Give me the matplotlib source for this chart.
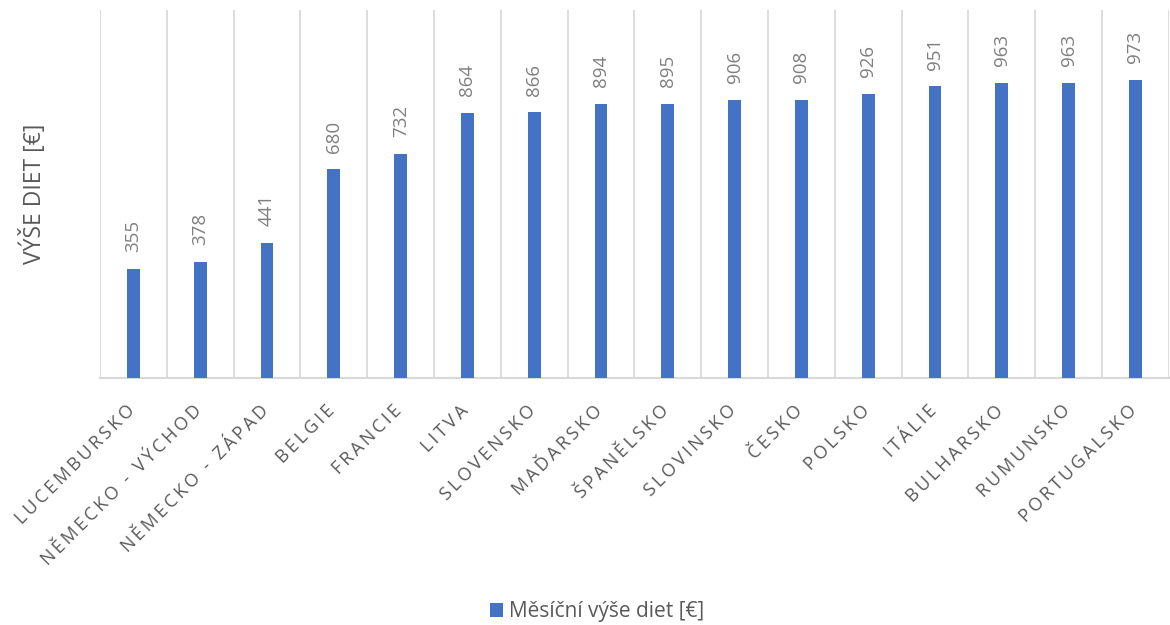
import matplotlib
matplotlib.use("Agg")
import matplotlib.pyplot as plt
import matplotlib.transforms as mtransforms
import numpy as np

categories = ["LUCEMBURSKO", "NĚMECKO - VÝCHOD", "NĚMECKO - ZÁPAD", "BELGIE", "FRANCIE",
              "LITVA", "SLOVENSKO", "MAĎARSKO", "ŠPANĚLSKO", "SLOVINSKO", "ČESKO",
              "POLSKO", "ITÁLIE", "BULHARSKO", "RUMUNSKO", "PORTUGALSKO"]
values = [355, 378, 441, 680, 732, 864, 866, 894, 895, 906, 908, 926, 951, 963, 963, 973]
series_name = "Měsíční výše diet [€]"
y_label = "VÝŠE DIET [€]"

FAM = ["Open Sans", "DejaVu Sans"]
plt.rcParams["font.family"] = FAM

def spaced(s):
    return "\u2009".join(list(s))

fig = plt.figure(figsize=(11.7, 6.25), dpi=100)
ax = fig.add_axes([0.0855, 0.3952, 0.9135, 0.5888])

x = np.arange(len(categories))
bars = ax.bar(x, values, width=0.19, color="#4472C4", label=series_name, zorder=3)

ax.set_xlim(-0.5, len(categories) - 0.5)
ax.set_ylim(0, 1200)
ax.set_yticks([])
ax.set_xticks(x)
ax.set_xticklabels([spaced(c) for c in categories], rotation=45, ha="right",
                   va="top", rotation_mode="anchor", fontsize=13, color="#595959")
ax.tick_params(axis="x", length=0, pad=17)
shift = mtransforms.ScaledTranslation(-8 / 100, 0, fig.dpi_scale_trans)
for lab in ax.get_xticklabels():
    lab.set_transform(lab.get_transform() + shift)
ax.set_xticks(np.arange(-0.5, len(categories)), minor=True)
ax.tick_params(axis="x", which="minor", length=0)
ax.grid(True, axis="x", which="minor", color="#d9d9d9", linewidth=1.3, zorder=0)
ax.grid(False, axis="x", which="major")

for s in ["top", "left", "right"]:
    ax.spines[s].set_visible(False)
ax.spines["bottom"].set_color("#d9d9d9")
ax.spines["bottom"].set_linewidth(1.5)

for xi, v in zip(x, values):
    ax.annotate(str(v), (xi, v), xytext=(0, 12), textcoords="offset points",
                rotation=90, ha="center", va="bottom", fontsize=13.5, color="#7f7f7f")

ax.set_ylabel(y_label, fontsize=16.5, color="#595959")
ax.yaxis.set_label_coords(-0.0496, 0.5)

fig.legend(handles=[bars], labels=[series_name], loc="center", bbox_to_anchor=(0.51, 0.021),
           frameon=False, fontsize=15, handlelength=0.65, handleheight=0.65,
           handletextpad=0.25, labelcolor="#595959")

fig.savefig("out.png", dpi=100)
